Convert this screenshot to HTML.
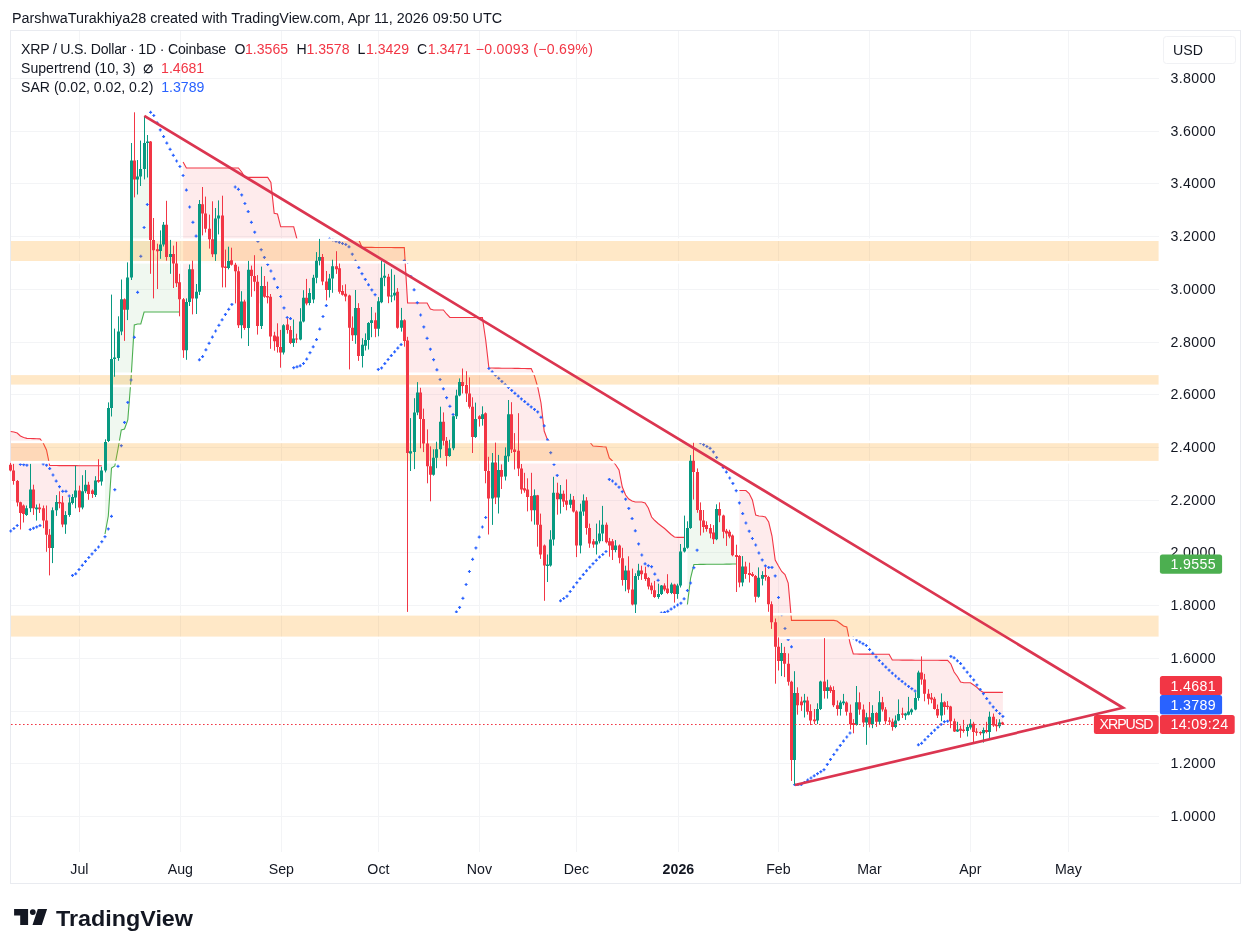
<!DOCTYPE html>
<html lang="en"><head><meta charset="utf-8"><title>XRPUSD chart</title>
<style>
html,body{margin:0;padding:0;background:#fff;}
body{width:1252px;height:952px;position:relative;overflow:hidden;font-family:"Liberation Sans",sans-serif;color:#131722;}
#hdr{position:absolute;left:12px;top:9px;font-size:14.35px;line-height:18px;white-space:nowrap;color:#131722;}
#chart{position:absolute;left:0;top:0;}
svg text{font-family:"Liberation Sans",sans-serif;}
.lg{position:absolute;left:21px;font-size:14.1px;line-height:18px;white-space:nowrap;color:#131722;}
.lg span.t{position:absolute;top:0}.lg span.r{color:#f23645}.lg span.b{color:#2962ff}
#logo{position:absolute;left:13px;top:903px;}
</style></head><body>
<div id="hdr">ParshwaTurakhiya28 created with TradingView.com, Apr 11, 2026 09:50 UTC</div>
<svg id="chart" width="1252" height="952" viewBox="0 0 1252 952">
<rect x="10.5" y="30.5" width="1230" height="853" fill="#fff" stroke="#e9ebf0" stroke-width="1"/>
<path d="M11 78.5H1159 M11 131.5H1159 M11 183.5H1159 M11 236.5H1159 M11 289.5H1159 M11 342.5H1159 M11 394.5H1159 M11 447.5H1159 M11 500.5H1159 M11 552.5H1159 M11 605.5H1159 M11 658.5H1159 M11 711.5H1159 M11 763.5H1159 M11 816.5H1159 M79.5 31V852 M180.5 31V852 M281.5 31V852 M378.5 31V852 M479.5 31V852 M576.5 31V852 M678.5 31V852 M778.5 31V852 M869.5 31V852 M970.5 31V852 M1068.5 31V852" stroke="#f3f4f6" stroke-width="1" fill="none"/>
<polygon points="10.7,431.5 13.9,432.0 17.2,433.0 20.4,436.0 23.7,437.5 26.9,438.4 30.2,438.5 33.5,438.6 36.7,438.8 40.0,438.9 43.2,443.0 46.5,450.0 49.7,465.5 53.0,465.5 56.2,465.5 59.5,465.6 62.7,465.6 66.0,465.6 69.2,465.6 72.5,465.6 75.7,465.6 79.0,465.7 82.3,465.7 85.5,465.7 88.8,465.7 92.0,465.7 95.3,465.8 98.5,465.8 101.8,465.8 101.8,476.1 98.5,475.9 95.3,487.2 92.0,493.0 88.8,490.1 85.5,484.8 82.3,495.8 79.0,498.9 75.7,490.4 72.5,499.7 69.2,507.9 66.0,521.1 62.7,512.6 59.5,501.3 56.2,505.8 53.0,532.2 49.7,546.8 46.5,528.2 43.2,515.6 40.0,508.3 36.7,510.4 33.5,499.3 30.2,493.4 26.9,511.2 23.7,511.6 20.4,511.6 17.2,492.5 13.9,475.0 10.7,467.4" fill="#f23645" fill-opacity="0.1"/>
<polyline points="10.7,431.5 13.9,432.0 17.2,433.0 20.4,436.0 23.7,437.5 26.9,438.4 30.2,438.5 33.5,438.6 36.7,438.8 40.0,438.9 43.2,443.0 46.5,450.0 49.7,465.5 53.0,465.5 56.2,465.5 59.5,465.6 62.7,465.6 66.0,465.6 69.2,465.6 72.5,465.6 75.7,465.6 79.0,465.7 82.3,465.7 85.5,465.7 88.8,465.7 92.0,465.7 95.3,465.8 98.5,465.8 101.8,465.8" fill="none" stroke="#f23645" stroke-width="1.1"/>
<polygon points="105.0,534.0 108.3,516.0 111.5,468.0 114.8,466.0 118.0,449.0 121.3,430.0 124.5,429.0 127.8,420.0 131.1,378.0 134.3,325.0 137.6,324.0 140.8,324.0 144.1,312.0 147.3,312.0 150.6,312.0 153.8,312.0 157.1,312.0 160.3,312.0 163.6,312.0 166.8,312.0 170.1,312.0 173.3,312.0 176.6,312.0 179.9,312.0 179.9,292.9 176.6,268.9 173.3,262.8 170.1,256.1 166.8,235.8 163.6,234.5 160.3,246.2 157.1,258.3 153.8,251.7 150.6,199.1 147.3,149.2 144.1,151.8 140.8,168.1 137.6,177.6 134.3,162.4 131.1,215.3 127.8,292.5 124.5,312.1 121.3,311.4 118.0,341.6 114.8,355.4 111.5,369.5 108.3,423.4 105.0,456.1" fill="#4caf50" fill-opacity="0.085"/>
<polyline points="105.0,534.0 108.3,516.0 111.5,468.0 114.8,466.0 118.0,449.0 121.3,430.0 124.5,429.0 127.8,420.0 131.1,378.0 134.3,325.0 137.6,324.0 140.8,324.0 144.1,312.0 147.3,312.0 150.6,312.0 153.8,312.0 157.1,312.0 160.3,312.0 163.6,312.0 166.8,312.0 170.1,312.0 173.3,312.0 176.6,312.0 179.9,312.0" fill="none" stroke="#4caf50" stroke-width="1.1"/>
<polygon points="183.1,162.0 186.4,168.0 189.6,168.0 192.9,168.0 196.1,168.0 199.4,168.0 202.6,168.0 205.9,168.0 209.1,168.0 212.4,168.0 215.6,168.0 218.9,168.0 222.1,168.0 225.4,168.0 228.7,168.0 231.9,168.0 235.2,168.0 238.4,168.0 241.7,172.0 244.9,177.4 248.2,177.4 251.4,177.4 254.7,177.4 257.9,177.4 261.2,177.4 264.4,177.4 267.7,177.4 270.9,182.4 274.2,213.2 277.5,214.0 280.7,226.8 284.0,226.8 287.2,226.8 290.5,226.8 293.7,226.8 297.0,239.2 300.2,239.7 303.5,239.7 306.7,239.7 310.0,239.7 313.2,239.7 316.5,239.7 319.7,239.7 323.0,239.7 326.3,239.7 329.5,239.7 332.8,239.7 336.0,239.7 339.3,239.7 342.5,239.7 345.8,239.7 349.0,239.7 352.3,239.7 355.5,239.7 358.8,239.7 362.0,247.4 365.3,247.4 368.5,247.4 371.8,247.4 375.1,247.5 378.3,247.5 381.6,247.5 384.8,247.5 388.1,247.5 391.3,247.5 394.6,247.6 397.8,247.6 401.1,247.6 404.3,247.6 407.6,303.0 410.8,303.0 414.1,303.0 417.3,303.0 420.6,303.0 423.8,303.0 427.1,303.0 430.4,309.0 433.6,310.0 436.9,310.0 440.1,310.0 443.4,310.0 446.6,314.0 449.9,317.5 453.1,317.5 456.4,317.5 459.6,317.5 462.9,317.5 466.1,317.5 469.4,317.5 472.6,317.5 475.9,317.5 479.2,317.5 482.4,317.5 485.7,340.0 488.9,368.0 492.2,368.0 495.4,368.1 498.7,368.1 501.9,368.2 505.2,368.2 508.4,368.3 511.7,368.3 514.9,368.4 518.2,368.4 521.4,368.5 524.7,368.5 528.0,368.6 531.2,368.6 534.5,376.0 537.7,387.0 541.0,403.0 544.2,431.0 547.5,440.0 550.7,442.0 554.0,442.0 557.2,442.0 560.5,442.0 563.7,442.0 567.0,442.0 570.2,442.0 573.5,442.0 576.8,442.0 580.0,442.0 583.3,442.0 586.5,442.0 589.8,442.0 593.0,446.0 596.3,446.2 599.5,446.5 602.8,446.8 606.0,447.0 609.3,458.0 612.5,461.0 615.8,465.0 619.0,470.0 622.3,487.0 625.6,495.0 628.8,499.0 632.1,501.0 635.3,502.0 638.6,502.0 641.8,502.0 645.1,503.0 648.3,508.0 651.6,517.0 654.8,520.5 658.1,523.5 661.3,526.0 664.6,528.5 667.8,531.5 671.1,534.5 674.4,537.0 677.6,537.4 680.9,537.4 684.1,537.4 684.1,541.9 680.9,567.2 677.6,590.5 674.4,591.3 671.1,588.7 667.8,587.5 664.6,587.4 661.3,589.9 658.1,593.4 654.8,591.5 651.6,588.2 648.3,582.7 645.1,574.9 641.8,572.6 638.6,572.6 635.3,591.7 632.1,592.0 628.8,577.3 625.6,576.8 622.3,567.9 619.0,552.8 615.8,547.0 612.5,547.6 609.3,545.4 606.0,533.2 602.8,526.3 599.5,534.6 596.3,540.9 593.0,543.1 589.8,535.7 586.5,515.0 583.3,505.5 580.0,528.5 576.8,531.1 573.5,504.9 570.2,501.6 567.0,498.7 563.7,498.2 560.5,497.9 557.2,497.4 554.0,513.6 550.7,550.4 547.5,566.7 544.2,564.1 541.0,537.9 537.7,515.4 534.5,504.9 531.2,500.1 528.0,494.1 524.7,486.1 521.4,478.9 518.2,452.1 514.9,451.0 511.7,429.8 508.4,433.1 505.2,465.1 501.9,475.0 498.7,484.0 495.4,476.7 492.2,484.7 488.9,490.2 485.7,445.0 482.4,416.3 479.2,419.2 475.9,424.1 472.6,423.5 469.4,396.6 466.1,387.9 462.9,382.5 459.6,388.1 456.4,405.1 453.1,432.6 449.9,450.2 446.6,450.0 443.4,430.1 440.1,433.9 436.9,454.2 433.6,464.4 430.4,472.2 427.1,455.6 423.8,430.8 420.6,411.9 417.3,400.6 414.1,433.0 410.8,448.5 407.6,435.6 404.3,331.8 401.1,321.9 397.8,309.1 394.6,290.9 391.3,290.9 388.1,287.6 384.8,275.8 381.6,285.9 378.3,315.9 375.1,324.7 371.8,321.9 368.5,333.7 365.3,342.4 362.0,351.6 358.8,332.0 355.5,319.3 352.3,330.1 349.0,321.9 345.8,294.0 342.5,291.6 339.3,279.3 336.0,265.1 332.8,274.4 329.5,285.0 326.3,285.7 323.0,269.4 319.7,255.5 316.5,268.4 313.2,288.8 310.0,297.4 306.7,296.4 303.5,307.9 300.2,327.3 297.0,338.7 293.7,337.0 290.5,335.8 287.2,326.7 284.0,339.1 280.7,349.3 277.5,339.8 274.2,339.8 270.9,319.0 267.7,294.6 264.4,289.2 261.2,301.9 257.9,304.4 254.7,276.0 251.4,277.1 248.2,301.2 244.9,314.8 241.7,314.1 238.4,297.8 235.2,275.6 231.9,259.6 228.7,261.2 225.4,267.9 222.1,241.5 218.9,217.2 215.6,235.4 212.4,238.0 209.1,232.8 205.9,217.9 202.6,210.0 199.4,247.7 196.1,297.0 192.9,285.7 189.6,285.4 186.4,327.6 183.1,326.4" fill="#f23645" fill-opacity="0.1"/>
<polyline points="183.1,162.0 186.4,168.0 189.6,168.0 192.9,168.0 196.1,168.0 199.4,168.0 202.6,168.0 205.9,168.0 209.1,168.0 212.4,168.0 215.6,168.0 218.9,168.0 222.1,168.0 225.4,168.0 228.7,168.0 231.9,168.0 235.2,168.0 238.4,168.0 241.7,172.0 244.9,177.4 248.2,177.4 251.4,177.4 254.7,177.4 257.9,177.4 261.2,177.4 264.4,177.4 267.7,177.4 270.9,182.4 274.2,213.2 277.5,214.0 280.7,226.8 284.0,226.8 287.2,226.8 290.5,226.8 293.7,226.8 297.0,239.2 300.2,239.7 303.5,239.7 306.7,239.7 310.0,239.7 313.2,239.7 316.5,239.7 319.7,239.7 323.0,239.7 326.3,239.7 329.5,239.7 332.8,239.7 336.0,239.7 339.3,239.7 342.5,239.7 345.8,239.7 349.0,239.7 352.3,239.7 355.5,239.7 358.8,239.7 362.0,247.4 365.3,247.4 368.5,247.4 371.8,247.4 375.1,247.5 378.3,247.5 381.6,247.5 384.8,247.5 388.1,247.5 391.3,247.5 394.6,247.6 397.8,247.6 401.1,247.6 404.3,247.6 407.6,303.0 410.8,303.0 414.1,303.0 417.3,303.0 420.6,303.0 423.8,303.0 427.1,303.0 430.4,309.0 433.6,310.0 436.9,310.0 440.1,310.0 443.4,310.0 446.6,314.0 449.9,317.5 453.1,317.5 456.4,317.5 459.6,317.5 462.9,317.5 466.1,317.5 469.4,317.5 472.6,317.5 475.9,317.5 479.2,317.5 482.4,317.5 485.7,340.0 488.9,368.0 492.2,368.0 495.4,368.1 498.7,368.1 501.9,368.2 505.2,368.2 508.4,368.3 511.7,368.3 514.9,368.4 518.2,368.4 521.4,368.5 524.7,368.5 528.0,368.6 531.2,368.6 534.5,376.0 537.7,387.0 541.0,403.0 544.2,431.0 547.5,440.0 550.7,442.0 554.0,442.0 557.2,442.0 560.5,442.0 563.7,442.0 567.0,442.0 570.2,442.0 573.5,442.0 576.8,442.0 580.0,442.0 583.3,442.0 586.5,442.0 589.8,442.0 593.0,446.0 596.3,446.2 599.5,446.5 602.8,446.8 606.0,447.0 609.3,458.0 612.5,461.0 615.8,465.0 619.0,470.0 622.3,487.0 625.6,495.0 628.8,499.0 632.1,501.0 635.3,502.0 638.6,502.0 641.8,502.0 645.1,503.0 648.3,508.0 651.6,517.0 654.8,520.5 658.1,523.5 661.3,526.0 664.6,528.5 667.8,531.5 671.1,534.5 674.4,537.0 677.6,537.4 680.9,537.4 684.1,537.4" fill="none" stroke="#f23645" stroke-width="1.1"/>
<polygon points="687.4,604.5 690.6,578.0 693.9,564.5 697.1,564.5 700.4,564.4 703.6,564.4 706.9,564.3 710.1,564.3 713.4,564.3 716.6,564.2 719.9,564.2 723.2,564.2 726.4,564.1 729.7,564.1 732.9,564.0 736.2,564.0 736.2,562.2 732.9,545.4 729.7,534.1 726.4,534.8 723.2,525.1 719.9,512.3 716.6,523.2 713.4,535.2 710.1,531.0 706.9,526.7 703.6,522.5 700.4,517.0 697.1,490.8 693.9,468.8 690.6,493.2 687.4,536.4" fill="#4caf50" fill-opacity="0.085"/>
<polyline points="687.4,604.5 690.6,578.0 693.9,564.5 697.1,564.5 700.4,564.4 703.6,564.4 706.9,564.3 710.1,564.3 713.4,564.3 716.6,564.2 719.9,564.2 723.2,564.2 726.4,564.1 729.7,564.1 732.9,564.0 736.2,564.0" fill="none" stroke="#4caf50" stroke-width="1.1"/>
<polygon points="739.4,490.5 742.7,490.5 745.9,490.5 749.2,493.5 752.4,500.0 755.7,515.0 758.9,516.0 762.2,516.2 765.4,517.0 768.7,522.0 772.0,536.0 775.2,560.0 778.5,566.0 781.7,571.5 785.0,574.5 788.2,583.0 791.5,620.4 794.7,620.4 798.0,620.4 801.2,620.4 804.5,620.4 807.7,620.4 811.0,620.4 814.2,620.4 817.5,620.4 820.8,620.4 824.0,620.4 827.3,620.4 830.5,620.4 833.8,620.4 837.0,621.0 840.3,623.5 843.5,626.0 846.8,627.0 850.0,643.0 853.3,654.0 856.5,654.0 859.8,654.1 863.0,654.1 866.3,654.1 869.6,654.1 872.8,654.2 876.1,654.2 879.3,654.2 882.6,654.2 885.8,654.3 889.1,654.3 892.3,660.0 895.6,660.0 898.8,660.0 902.1,660.1 905.3,660.1 908.6,660.1 911.8,660.1 915.1,660.2 918.4,660.2 921.6,660.2 924.9,660.2 928.1,660.3 931.4,660.3 934.6,660.3 937.9,660.3 941.1,660.4 944.4,660.4 947.6,660.4 950.9,664.0 954.1,672.0 957.4,676.5 960.6,682.0 963.9,682.8 967.2,682.8 970.4,682.8 973.7,685.0 976.9,687.3 980.2,690.5 983.4,692.4 986.7,692.4 989.9,692.4 993.2,692.4 996.4,692.4 999.7,692.4 1002.9,692.4 1002.9,723.4 999.7,724.0 996.4,725.5 993.2,720.7 989.9,724.7 986.7,729.3 983.4,733.4 980.2,733.0 976.9,732.0 973.7,729.9 970.4,725.0 967.2,729.7 963.9,728.2 960.6,730.7 957.4,728.7 954.1,725.8 950.9,715.4 947.6,705.9 944.4,706.4 941.1,708.1 937.9,711.7 934.6,703.6 931.4,698.3 928.1,696.5 924.9,687.1 921.6,673.3 918.4,685.5 915.1,702.6 911.8,711.2 908.6,709.6 905.3,715.4 902.1,713.5 898.8,713.8 895.6,722.7 892.3,724.5 889.1,721.2 885.8,715.6 882.6,705.1 879.3,710.0 876.1,718.5 872.8,717.7 869.6,717.8 866.3,724.3 863.0,715.9 859.8,704.8 856.5,709.7 853.3,725.1 850.0,717.8 846.8,707.8 843.5,701.0 840.3,706.9 837.0,707.6 833.8,697.2 830.5,689.2 827.3,689.2 824.0,677.3 820.8,695.3 817.5,714.2 814.2,718.5 811.0,715.2 807.7,705.9 804.5,703.6 801.2,703.6 798.0,700.0 794.7,727.2 791.5,725.8 788.2,671.2 785.0,660.2 781.7,658.3 778.5,653.9 775.2,642.8 772.0,614.2 768.7,592.2 765.4,575.0 762.2,577.6 758.9,584.9 755.7,587.5 752.4,574.7 749.2,573.3 745.9,570.3 742.7,572.9 739.4,570.3" fill="#f23645" fill-opacity="0.1"/>
<polyline points="739.4,490.5 742.7,490.5 745.9,490.5 749.2,493.5 752.4,500.0 755.7,515.0 758.9,516.0 762.2,516.2 765.4,517.0 768.7,522.0 772.0,536.0 775.2,560.0 778.5,566.0 781.7,571.5 785.0,574.5 788.2,583.0 791.5,620.4 794.7,620.4 798.0,620.4 801.2,620.4 804.5,620.4 807.7,620.4 811.0,620.4 814.2,620.4 817.5,620.4 820.8,620.4 824.0,620.4 827.3,620.4 830.5,620.4 833.8,620.4 837.0,621.0 840.3,623.5 843.5,626.0 846.8,627.0 850.0,643.0 853.3,654.0 856.5,654.0 859.8,654.1 863.0,654.1 866.3,654.1 869.6,654.1 872.8,654.2 876.1,654.2 879.3,654.2 882.6,654.2 885.8,654.3 889.1,654.3 892.3,660.0 895.6,660.0 898.8,660.0 902.1,660.1 905.3,660.1 908.6,660.1 911.8,660.1 915.1,660.2 918.4,660.2 921.6,660.2 924.9,660.2 928.1,660.3 931.4,660.3 934.6,660.3 937.9,660.3 941.1,660.4 944.4,660.4 947.6,660.4 950.9,664.0 954.1,672.0 957.4,676.5 960.6,682.0 963.9,682.8 967.2,682.8 970.4,682.8 973.7,685.0 976.9,687.3 980.2,690.5 983.4,692.4 986.7,692.4 989.9,692.4 993.2,692.4 996.4,692.4 999.7,692.4 1002.9,692.4" fill="none" stroke="#f23645" stroke-width="1.1"/>
<path d="M9.2 531.0h3M10.7 529.5v3 M12.4 528.5h3M13.9 527.0v3 M15.7 525.5h3M17.2 524.0v3 M18.9 464.3h3M20.4 462.8v3 M22.2 464.7h3M23.7 463.2v3 M25.4 465.2h3M26.9 463.7v3 M28.7 529.5h3M30.2 528.0v3 M32.0 528.2h3M33.5 526.7v3 M35.2 526.9h3M36.7 525.4v3 M38.5 525.6h3M40.0 524.1v3 M41.7 463.9h3M43.2 462.4v3 M45.0 465.2h3M46.5 463.7v3 M48.2 468.6h3M49.7 467.1v3 M51.5 475.0h3M53.0 473.5v3 M54.7 481.1h3M56.2 479.6v3 M58.0 486.7h3M59.5 485.2v3 M61.2 491.3h3M62.7 489.8v3 M64.5 491.3h3M66.0 489.8v3 M67.7 496.0h3M69.2 494.5v3 M71.0 575.4h3M72.5 573.9v3 M74.2 573.8h3M75.7 572.3v3 M77.5 569.5h3M79.0 568.0v3 M80.8 565.3h3M82.3 563.8v3 M84.0 561.4h3M85.5 559.9v3 M87.3 557.5h3M88.8 556.0v3 M90.5 553.9h3M92.0 552.4v3 M93.8 550.3h3M95.3 548.8v3 M97.0 547.0h3M98.5 545.5v3 M100.3 541.7h3M101.8 540.2v3 M103.5 536.7h3M105.0 535.2v3 M106.8 528.9h3M108.3 527.4v3 M110.0 516.3h3M111.5 514.8v3 M113.3 489.7h3M114.8 488.2v3 M116.5 466.3h3M118.0 464.8v3 M119.8 445.7h3M121.3 444.2v3 M123.0 422.4h3M124.5 420.9v3 M126.3 402.4h3M127.8 400.9v3 M129.6 380.0h3M131.1 378.5v3 M132.8 337.3h3M134.3 335.8v3 M136.1 292.3h3M137.6 290.8v3 M139.3 256.3h3M140.8 254.8v3 M142.6 227.5h3M144.1 226.0v3 M145.8 204.5h3M147.3 203.0v3 M149.1 112.3h3M150.6 110.8v3 M152.3 115.5h3M153.8 114.0v3 M155.6 122.8h3M157.1 121.3v3 M158.8 129.9h3M160.3 128.4v3 M162.1 136.6h3M163.6 135.1v3 M165.3 143.1h3M166.8 141.6v3 M168.6 149.3h3M170.1 147.8v3 M171.8 155.3h3M173.3 153.8v3 M175.1 161.0h3M176.6 159.5v3 M178.4 166.5h3M179.9 165.0v3 M181.6 175.5h3M183.1 174.0v3 M184.9 190.1h3M186.4 188.6v3 M188.1 207.0h3M189.6 205.5v3 M191.4 222.3h3M192.9 220.8v3 M194.6 236.1h3M196.1 234.6v3 M197.9 359.8h3M199.4 358.3v3 M201.1 356.6h3M202.6 355.1v3 M204.4 349.8h3M205.9 348.3v3 M207.6 343.3h3M209.1 341.8v3 M210.9 337.1h3M212.4 335.6v3 M214.1 331.0h3M215.6 329.5v3 M217.4 325.3h3M218.9 323.8v3 M220.6 319.8h3M222.1 318.3v3 M223.9 314.4h3M225.4 312.9v3 M227.2 309.3h3M228.7 307.8v3 M230.4 304.4h3M231.9 302.9v3 M233.7 187.0h3M235.2 185.5v3 M236.9 189.3h3M238.4 187.8v3 M240.2 194.9h3M241.7 193.4v3 M243.4 203.5h3M244.9 202.0v3 M246.7 211.6h3M248.2 210.1v3 M249.9 222.3h3M251.4 220.8v3 M253.2 232.2h3M254.7 230.7v3 M256.4 241.3h3M257.9 239.8v3 M259.7 249.7h3M261.2 248.2v3 M262.9 257.4h3M264.4 255.9v3 M266.2 264.5h3M267.7 263.0v3 M269.4 271.0h3M270.9 269.5v3 M272.7 278.8h3M274.2 277.3v3 M276.0 287.4h3M277.5 285.9v3 M279.2 296.5h3M280.7 295.0v3 M282.5 307.9h3M284.0 306.4v3 M285.7 317.5h3M287.2 316.0v3 M289.0 318.6h3M290.5 317.1v3 M292.2 367.7h3M293.7 366.2v3 M295.5 366.8h3M297.0 365.3v3 M298.7 365.8h3M300.2 364.3v3 M302.0 363.5h3M303.5 362.0v3 M305.2 359.1h3M306.7 357.6v3 M308.5 352.7h3M310.0 351.2v3 M311.7 346.8h3M313.2 345.3v3 M315.0 339.6h3M316.5 338.1v3 M318.2 329.1h3M319.7 327.6v3 M321.5 316.5h3M323.0 315.0v3 M324.8 305.6h3M326.3 304.1v3 M328.0 238.9h3M329.5 237.4v3 M331.3 240.1h3M332.8 238.6v3 M334.5 241.2h3M336.0 239.7v3 M337.8 242.4h3M339.3 240.9v3 M341.0 243.5h3M342.5 242.0v3 M344.3 244.5h3M345.8 243.0v3 M347.5 246.8h3M349.0 245.3v3 M350.8 254.2h3M352.3 252.7v3 M354.0 261.1h3M355.5 259.6v3 M357.3 267.6h3M358.8 266.1v3 M360.5 273.7h3M362.0 272.2v3 M363.8 279.4h3M365.3 277.9v3 M367.0 284.8h3M368.5 283.3v3 M370.3 289.9h3M371.8 288.4v3 M373.6 294.7h3M375.1 293.2v3 M376.8 369.4h3M378.3 367.9v3 M380.1 367.9h3M381.6 366.4v3 M383.3 363.6h3M384.8 362.1v3 M386.6 359.5h3M388.1 358.0v3 M389.8 355.6h3M391.3 354.1v3 M393.1 351.8h3M394.6 350.3v3 M396.3 348.1h3M397.8 346.6v3 M399.6 344.6h3M401.1 343.1v3 M402.8 260.7h3M404.3 259.2v3 M406.1 262.4h3M407.6 260.9v3 M409.3 276.4h3M410.8 274.9v3 M412.6 289.8h3M414.1 288.3v3 M415.8 302.7h3M417.3 301.2v3 M419.1 315.0h3M420.6 313.5v3 M422.3 326.9h3M423.8 325.4v3 M425.6 338.3h3M427.1 336.8v3 M428.9 349.2h3M430.4 347.7v3 M432.1 359.7h3M433.6 358.2v3 M435.4 369.8h3M436.9 368.3v3 M438.6 379.5h3M440.1 378.0v3 M441.9 388.8h3M443.4 387.3v3 M445.1 397.7h3M446.6 396.2v3 M448.4 406.3h3M449.9 404.8v3 M451.6 414.5h3M453.1 413.0v3 M454.9 611.9h3M456.4 610.4v3 M458.1 607.4h3M459.6 605.9v3 M461.4 598.3h3M462.9 596.8v3 M464.6 584.5h3M466.1 583.0v3 M467.9 571.5h3M469.4 570.0v3 M471.1 559.3h3M472.6 557.8v3 M474.4 547.9h3M475.9 546.4v3 M477.7 537.1h3M479.2 535.6v3 M480.9 527.0h3M482.4 525.5v3 M484.2 517.5h3M485.7 516.0v3 M487.4 368.5h3M488.9 367.0v3 M490.7 371.8h3M492.2 370.3v3 M493.9 375.1h3M495.4 373.6v3 M497.2 378.3h3M498.7 376.8v3 M500.4 381.4h3M501.9 379.9v3 M503.7 384.5h3M505.2 383.0v3 M506.9 387.5h3M508.4 386.0v3 M510.2 390.4h3M511.7 388.9v3 M513.4 393.3h3M514.9 391.8v3 M516.7 396.1h3M518.2 394.6v3 M519.9 398.9h3M521.4 397.4v3 M523.2 401.6h3M524.7 400.1v3 M526.5 404.3h3M528.0 402.8v3 M529.7 406.9h3M531.2 405.4v3 M533.0 409.4h3M534.5 407.9v3 M536.2 411.9h3M537.7 410.4v3 M539.5 417.3h3M541.0 415.8v3 M542.7 425.8h3M544.2 424.3v3 M546.0 439.8h3M547.5 438.3v3 M549.2 452.7h3M550.7 451.2v3 M552.5 464.5h3M554.0 463.0v3 M555.7 475.4h3M557.2 473.9v3 M559.0 600.8h3M560.5 599.3v3 M562.2 598.5h3M563.7 597.0v3 M565.5 596.2h3M567.0 594.7v3 M568.7 591.5h3M570.2 590.0v3 M572.0 587.1h3M573.5 585.6v3 M575.3 582.7h3M576.8 581.2v3 M578.5 578.6h3M580.0 577.1v3 M581.8 574.6h3M583.3 573.1v3 M585.0 570.8h3M586.5 569.3v3 M588.3 567.2h3M589.8 565.7v3 M591.5 563.7h3M593.0 562.2v3 M594.8 560.3h3M596.3 558.8v3 M598.0 557.1h3M599.5 555.6v3 M601.3 554.5h3M602.8 553.0v3 M604.5 551.5h3M606.0 550.0v3 M607.8 479.4h3M609.3 477.9v3 M611.0 481.0h3M612.5 479.5v3 M614.3 484.1h3M615.8 482.6v3 M617.5 487.2h3M619.0 485.7v3 M620.8 491.7h3M622.3 490.2v3 M624.1 499.2h3M625.6 497.7v3 M627.3 508.4h3M628.8 506.9v3 M630.6 518.6h3M632.1 517.1v3 M633.8 530.8h3M635.3 529.3v3 M637.1 543.9h3M638.6 542.4v3 M640.3 555.0h3M641.8 553.5v3 M643.6 563.8h3M645.1 562.3v3 M646.8 565.7h3M648.3 564.2v3 M650.1 566.7h3M651.6 565.2v3 M653.3 574.1h3M654.8 572.6v3 M656.6 580.3h3M658.1 578.8v3 M659.8 613.0h3M661.3 611.5v3 M663.1 612.4h3M664.6 610.9v3 M666.3 611.3h3M667.8 609.8v3 M669.6 609.1h3M671.1 607.6v3 M672.9 607.0h3M674.4 605.5v3 M676.1 605.0h3M677.6 603.5v3 M679.4 603.2h3M680.9 601.7v3 M682.6 598.8h3M684.1 597.3v3 M685.9 590.5h3M687.4 589.0v3 M689.1 583.0h3M690.6 581.5v3 M692.4 567.7h3M693.9 566.2v3 M695.6 550.2h3M697.1 548.7v3 M698.9 442.8h3M700.4 441.3v3 M702.1 444.7h3M703.6 443.2v3 M705.4 446.5h3M706.9 445.0v3 M708.6 448.3h3M710.1 446.8v3 M711.9 451.9h3M713.4 450.4v3 M715.1 457.4h3M716.6 455.9v3 M718.4 462.6h3M719.9 461.1v3 M721.7 467.5h3M723.2 466.0v3 M724.9 472.1h3M726.4 470.6v3 M728.2 478.0h3M729.7 476.5v3 M731.4 483.4h3M732.9 481.9v3 M734.7 490.7h3M736.2 489.2v3 M737.9 502.9h3M739.4 501.4v3 M741.2 513.6h3M742.7 512.1v3 M744.4 523.0h3M745.9 521.5v3 M747.7 531.2h3M749.2 529.7v3 M750.9 538.5h3M752.4 537.0v3 M754.2 545.0h3M755.7 543.5v3 M757.4 553.0h3M758.9 551.5v3 M760.7 559.9h3M762.2 558.4v3 M763.9 565.9h3M765.4 564.4v3 M767.2 567.4h3M768.7 565.9v3 M770.5 567.4h3M772.0 565.9v3 M773.7 575.9h3M775.2 574.4v3 M777.0 597.5h3M778.5 596.0v3 M780.2 614.7h3M781.7 613.2v3 M783.5 628.5h3M785.0 627.0v3 M786.7 639.6h3M788.2 638.1v3 M790.0 646.8h3M791.5 645.3v3 M793.2 784.6h3M794.7 783.1v3 M796.5 784.6h3M798.0 783.1v3 M799.7 784.6h3M801.2 783.1v3 M803.0 782.4h3M804.5 780.9v3 M806.2 780.1h3M807.7 778.6v3 M809.5 778.0h3M811.0 776.5v3 M812.7 775.8h3M814.2 774.3v3 M816.0 773.7h3M817.5 772.2v3 M819.3 771.7h3M820.8 770.2v3 M822.5 769.7h3M824.0 768.2v3 M825.8 764.4h3M827.3 762.9v3 M829.0 759.4h3M830.5 757.9v3 M832.3 754.5h3M833.8 753.0v3 M835.5 749.9h3M837.0 748.4v3 M838.8 745.4h3M840.3 743.9v3 M842.0 741.1h3M843.5 739.6v3 M845.3 737.0h3M846.8 735.5v3 M848.5 733.0h3M850.0 731.5v3 M851.8 638.1h3M853.3 636.6v3 M855.0 640.0h3M856.5 638.5v3 M858.3 641.9h3M859.8 640.4v3 M861.5 643.7h3M863.0 642.2v3 M864.8 645.5h3M866.3 644.0v3 M868.1 649.5h3M869.6 648.0v3 M871.3 653.3h3M872.8 651.8v3 M874.6 656.9h3M876.1 655.4v3 M877.8 660.5h3M879.3 659.0v3 M881.1 663.8h3M882.6 662.3v3 M884.3 667.1h3M885.8 665.6v3 M887.6 670.2h3M889.1 668.7v3 M890.8 673.2h3M892.3 671.7v3 M894.1 676.0h3M895.6 674.5v3 M897.3 678.8h3M898.8 677.3v3 M900.6 681.4h3M902.1 679.9v3 M903.8 684.0h3M905.3 682.5v3 M907.1 686.4h3M908.6 684.9v3 M910.3 688.7h3M911.8 687.2v3 M913.6 691.0h3M915.1 689.5v3 M916.9 744.8h3M918.4 743.3v3 M920.1 743.3h3M921.6 741.8v3 M923.4 739.8h3M924.9 738.3v3 M926.6 736.5h3M928.1 735.0v3 M929.9 733.3h3M931.4 731.8v3 M933.1 730.2h3M934.6 728.7v3 M936.4 727.3h3M937.9 725.8v3 M939.6 724.4h3M941.1 722.9v3 M942.9 721.7h3M944.4 720.2v3 M946.1 721.2h3M947.6 719.7v3 M949.4 656.4h3M950.9 654.9v3 M952.6 657.8h3M954.1 656.3v3 M955.9 660.8h3M957.4 659.3v3 M959.1 663.6h3M960.6 662.1v3 M962.4 668.1h3M963.9 666.6v3 M965.7 672.2h3M967.2 670.7v3 M968.9 676.2h3M970.4 674.7v3 M972.2 679.9h3M973.7 678.4v3 M975.4 684.9h3M976.9 683.4v3 M978.7 689.4h3M980.2 687.9v3 M981.9 693.7h3M983.4 692.2v3 M985.2 698.6h3M986.7 697.1v3 M988.4 703.0h3M989.9 701.5v3 M991.7 706.9h3M993.2 705.4v3 M994.9 710.5h3M996.4 709.0v3 M998.2 713.5h3M999.7 712.0v3 M1001.4 716.4h3M1002.9 714.9v3" stroke="#2962ff" stroke-width="1.2" fill="none"/>
<rect x="11" y="238.4" width="1147.6" height="2.6" fill="#fff"/><rect x="11" y="261.0" width="1147.6" height="2.6" fill="#fff"/>
<rect x="11" y="241" width="1147.6" height="20.0" fill="#ff9800" fill-opacity="0.22"/>
<rect x="11" y="372.5" width="1147.6" height="2.6" fill="#fff"/><rect x="11" y="384.6" width="1147.6" height="2.6" fill="#fff"/>
<rect x="11" y="375.1" width="1147.6" height="9.5" fill="#ff9800" fill-opacity="0.22"/>
<rect x="11" y="440.6" width="1147.6" height="2.6" fill="#fff"/><rect x="11" y="460.9" width="1147.6" height="2.6" fill="#fff"/>
<rect x="11" y="443.2" width="1147.6" height="17.7" fill="#ff9800" fill-opacity="0.22"/>
<rect x="11" y="613.0" width="1147.6" height="2.6" fill="#fff"/><rect x="11" y="636.6" width="1147.6" height="2.6" fill="#fff"/>
<rect x="11" y="615.6" width="1147.6" height="21.0" fill="#ff9800" fill-opacity="0.22"/>
<path d="M26.5 505.5V515.9 M30.5 463.9V512.1 M36.5 504.5V520.6 M52.5 507.4V563.1 M56.5 495.1V515.9 M65.5 511.2V533.8 M69.5 497.4V516.8 M72.5 494.1V504.5 M75.5 465.8V508.3 M82.5 475.2V509.3 M85.5 470.1V493.2 M95.5 476.2V497.0 M101.5 466.7V485.6 M105.5 439.3V472.4 M108.5 402.4V442.1 M111.5 294.6V416.5 M114.5 328.6V376.8 M118.5 316.3V360.8 M121.5 279.5V335.2 M127.5 262.4V320.1 M131.5 143.0V280.0 M137.5 160.0V194.5 M140.5 140.6V186.0 M144.5 116.0V179.4 M147.5 135.0V177.5 M160.5 230.4V258.8 M163.5 222.0V246.5 M170.5 239.9V273.8 M186.5 298.4V359.8 M189.5 264.5V306.0 M196.5 284.0V314.0 M199.5 200.0V295.0 M215.5 208.0V260.9 M218.5 200.4V234.4 M228.5 246.7V269.4 M241.5 291.2V338.4 M248.5 260.9V346.0 M261.5 266.6V329.0 M283.5 324.2V354.5 M293.5 319.5V346.9 M300.5 308.2V340.3 M303.5 290.2V322.4 M309.5 288.3V305.3 M313.5 274.8V303.2 M316.5 252.1V283.3 M319.5 238.9V265.4 M329.5 273.9V297.5 M332.5 259.7V292.8 M355.5 290.0V343.8 M362.5 338.2V367.5 M365.5 333.4V350.5 M368.5 322.1V349.5 M371.5 307.0V337.2 M378.5 297.1V336.3 M381.5 260.7V303.2 M384.5 263.5V286.2 M391.5 269.2V302.2 M394.5 274.8V300.4 M401.5 307.9V331.6 M410.5 418.1V471.0 M414.5 398.2V469.1 M417.5 382.1V415.2 M433.5 449.3V475.7 M436.5 441.7V468.2 M440.5 406.7V457.8 M449.5 439.8V456.8 M453.5 415.8V450.2 M456.5 389.7V419.0 M459.5 378.4V396.3 M475.5 402.6V437.9 M482.5 406.3V425.6 M492.5 453.0V524.9 M498.5 454.9V513.5 M505.5 447.4V480.5 M508.5 400.0V461.8 M534.5 489.4V524.7 M547.5 554.5V582.0 M550.5 530.2V566.6 M553.5 476.8V545.6 M560.5 485.0V513.6 M570.5 493.8V508.1 M580.5 503.7V553.4 M583.5 494.4V515.8 M596.5 523.6V554.5 M599.5 520.3V543.4 M602.5 505.9V541.2 M615.5 540.1V552.3 M625.5 565.7V591.3 M635.5 573.3V613.0 M638.5 563.8V579.9 M658.5 583.7V598.8 M661.5 585.0V595.0 M671.5 582.7V594.1 M677.5 583.7V598.8 M680.5 544.0V587.5 M684.5 515.6V552.5 M687.5 521.3V548.7 M690.5 455.1V528.9 M716.5 504.3V540.2 M742.5 556.1V586.3 M758.5 567.4V597.7 M762.5 571.2V585.4 M781.5 643.0V676.1 M794.5 671.2V784.6 M804.5 693.9V717.5 M817.5 703.3V724.1 M820.5 680.7V710.0 M827.5 679.7V698.6 M840.5 700.5V715.6 M843.5 693.9V705.2 M856.5 686.0V725.6 M866.5 712.8V744.8 M872.5 705.2V728.2 M879.5 691.1V725.0 M895.5 715.4V728.2 M898.5 699.4V721.2 M905.5 712.8V719.9 M908.5 696.9V715.4 M911.5 708.4V714.8 M915.5 692.4V710.3 M918.5 670.7V700.7 M941.5 693.4V721.2 M957.5 721.8V732.0 M967.5 724.3V736.5 M970.5 719.2V729.5 M983.5 727.5V742.6 M989.5 711.6V738.4 M999.5 719.2V728.2" stroke="#089981" stroke-width="1" fill="none"/>
<path d="M25.0 508.3h3V514.9h-3Z M29.0 489.4h3V508.3h-3Z M35.0 507.4h3V509.3h-3Z M51.0 510.2h3V548.0h-3Z M55.0 502.1h3V510.2h-3Z M64.0 514.9h3V524.4h-3Z M68.0 502.6h3V514.9h-3Z M71.0 497.0h3V503.0h-3Z M74.0 490.4h3V497.4h-3Z M81.0 491.3h3V507.4h-3Z M84.0 484.7h3V491.3h-3Z M94.0 480.5h3V495.1h-3Z M100.0 470.5h3V481.5h-3Z M104.0 442.1h3V470.5h-3Z M107.0 408.0h3V441.1h-3Z M110.0 358.9h3V408.0h-3Z M113.0 357.4h3V358.9h-3Z M117.0 331.4h3V357.9h-3Z M120.0 299.3h3V331.4h-3Z M126.0 277.6h3V309.7h-3Z M130.0 160.5h3V277.6h-3Z M136.0 176.6h3V179.4h-3Z M139.0 169.0h3V176.6h-3Z M143.0 143.0h3V169.0h-3Z M146.0 141.5h3V143.0h-3Z M159.0 244.6h3V250.9h-3Z M162.0 224.8h3V244.6h-3Z M169.0 254.0h3V256.9h-3Z M185.0 302.0h3V350.3h-3Z M188.0 269.2h3V302.0h-3Z M195.0 291.7h3V298.4h-3Z M198.0 204.0h3V291.7h-3Z M214.0 218.4h3V254.3h-3Z M217.0 215.5h3V218.4h-3Z M227.0 260.9h3V267.9h-3Z M240.0 301.6h3V325.2h-3Z M247.0 269.8h3V328.0h-3Z M260.0 286.0h3V326.1h-3Z M282.0 325.2h3V352.6h-3Z M292.0 338.4h3V343.1h-3Z M299.0 321.4h3V339.4h-3Z M302.0 297.8h3V321.4h-3Z M308.0 293.0h3V303.1h-3Z M312.0 277.7h3V299.4h-3Z M315.0 260.7h3V277.7h-3Z M318.0 256.9h3V260.7h-3Z M328.0 278.6h3V290.0h-3Z M331.0 266.3h3V278.6h-3Z M354.0 307.9h3V335.3h-3Z M361.0 344.8h3V356.1h-3Z M364.0 340.1h3V345.7h-3Z M367.0 323.0h3V340.1h-3Z M370.0 320.2h3V323.0h-3Z M377.0 301.3h3V328.7h-3Z M380.0 277.7h3V302.2h-3Z M383.0 275.8h3V277.7h-3Z M390.0 295.6h3V296.6h-3Z M393.0 292.8h3V295.6h-3Z M400.0 320.2h3V327.8h-3Z M409.0 451.2h3V453.6h-3Z M413.0 412.4h3V452.1h-3Z M416.0 392.5h3V412.4h-3Z M432.0 457.8h3V474.8h-3Z M435.0 449.3h3V457.8h-3Z M439.0 421.8h3V449.3h-3Z M448.0 448.3h3V455.9h-3Z M452.0 416.2h3V448.3h-3Z M455.0 395.4h3V416.2h-3Z M458.0 382.1h3V395.4h-3Z M474.0 419.0h3V437.0h-3Z M481.0 414.3h3V419.0h-3Z M491.0 462.5h3V498.4h-3Z M497.0 470.1h3V497.5h-3Z M504.0 455.8h3V476.6h-3Z M507.0 414.3h3V456.3h-3Z M533.0 495.3h3V510.3h-3Z M546.0 564.4h3V565.9h-3Z M549.0 539.5h3V565.5h-3Z M552.0 492.7h3V539.5h-3Z M559.0 493.8h3V499.3h-3Z M569.0 499.7h3V504.8h-3Z M579.0 511.4h3V545.6h-3Z M582.0 500.4h3V511.4h-3Z M595.0 541.2h3V544.5h-3Z M598.0 533.5h3V541.2h-3Z M601.0 524.7h3V533.5h-3Z M614.0 545.6h3V550.0h-3Z M624.0 570.5h3V579.9h-3Z M634.0 576.1h3V604.5h-3Z M637.0 570.5h3V576.1h-3Z M657.0 594.1h3V596.9h-3Z M660.0 585.6h3V594.1h-3Z M670.0 584.6h3V593.1h-3Z M676.0 585.6h3V594.1h-3Z M679.0 551.6h3V585.6h-3Z M683.0 547.8h3V551.6h-3Z M686.0 527.9h3V547.8h-3Z M689.0 460.8h3V527.9h-3Z M715.0 509.0h3V539.3h-3Z M741.0 566.5h3V582.5h-3Z M757.0 577.8h3V596.7h-3Z M761.0 575.0h3V578.8h-3Z M780.0 652.9h3V661.0h-3Z M793.0 692.9h3V760.1h-3Z M803.0 700.5h3V702.4h-3Z M816.0 709.0h3V720.4h-3Z M819.0 681.6h3V709.0h-3Z M826.0 687.3h3V691.0h-3Z M839.0 702.4h3V709.0h-3Z M842.0 701.4h3V703.3h-3Z M855.0 702.2h3V725.0h-3Z M865.0 717.3h3V722.4h-3Z M871.0 713.1h3V724.3h-3Z M878.0 702.2h3V721.8h-3Z M894.0 720.5h3V726.9h-3Z M897.0 714.1h3V720.5h-3Z M904.0 713.5h3V715.4h-3Z M907.0 711.6h3V714.8h-3Z M910.0 709.6h3V712.2h-3Z M914.0 698.1h3V709.6h-3Z M917.0 672.6h3V698.1h-3Z M940.0 702.2h3V715.4h-3Z M956.0 729.5h3V731.4h-3Z M966.0 726.9h3V731.0h-3Z M969.0 723.7h3V727.5h-3Z M982.0 730.1h3V733.3h-3Z M988.0 716.7h3V732.0h-3Z M998.0 722.4h3V726.3h-3Z" fill="#089981"/>
<path d="M10.5 462.9V471.4 M13.5 463.9V484.7 M17.5 480.0V506.4 M20.5 501.7V529.5 M23.5 504.5V522.5 M33.5 484.7V514.9 M39.5 503.6V513.0 M43.5 505.5V528.2 M46.5 505.5V551.8 M49.5 529.1V575.4 M59.5 491.3V508.3 M62.5 496.0V527.2 M79.5 485.6V512.1 M88.5 481.8V499.8 M92.5 489.4V497.9 M98.5 459.2V482.8 M124.5 298.4V340.9 M134.5 112.3V197.4 M150.5 141.0V273.8 M153.5 218.0V298.4 M157.5 243.7V289.0 M166.5 200.8V260.7 M173.5 245.6V288.0 M176.5 241.8V287.0 M179.5 273.8V316.3 M183.5 298.0V357.9 M192.5 260.7V314.4 M202.5 187.0V235.4 M205.5 196.6V232.5 M209.5 214.6V248.6 M212.5 201.3V257.1 M222.5 195.7V287.4 M225.5 249.6V287.4 M231.5 247.7V265.6 M235.5 262.8V303.4 M238.5 266.6V328.0 M244.5 299.7V329.9 M251.5 265.6V296.8 M254.5 255.2V291.2 M257.5 275.1V334.6 M264.5 276.0V297.8 M267.5 281.7V303.4 M270.5 294.0V348.8 M274.5 331.8V350.7 M277.5 323.3V352.6 M280.5 329.9V367.7 M287.5 318.6V333.7 M290.5 326.1V344.1 M296.5 333.7V343.1 M306.5 278.9V305.3 M322.5 254.0V285.2 M326.5 271.0V300.4 M336.5 251.2V273.9 M339.5 263.5V293.7 M342.5 285.2V295.6 M345.5 284.3V301.3 M349.5 294.7V369.4 M352.5 316.4V341.0 M358.5 303.2V360.9 M375.5 312.6V337.2 M388.5 273.9V303.2 M397.5 288.1V328.7 M404.5 319.3V346.7 M407.5 336.8V611.9 M420.5 387.8V448.3 M423.5 408.6V452.1 M427.5 429.4V483.3 M430.5 446.4V501.3 M443.5 412.4V445.5 M446.5 437.0V466.3 M462.5 368.5V393.5 M466.5 371.2V402.0 M469.5 377.4V408.6 M472.5 397.3V453.0 M479.5 415.2V426.6 M485.5 412.4V483.3 M488.5 456.8V534.5 M495.5 442.6V504.1 M501.5 464.4V489.0 M511.5 402.2V453.0 M514.5 433.1V469.5 M518.5 413.2V476.1 M521.5 464.0V493.8 M524.5 472.8V492.7 M527.5 478.3V511.4 M531.5 472.8V521.4 M537.5 494.9V546.7 M540.5 513.6V558.9 M544.5 544.5V600.8 M557.5 482.7V514.7 M563.5 490.5V507.0 M566.5 479.4V510.3 M573.5 496.0V512.5 M576.5 510.3V557.1 M586.5 497.1V534.6 M589.5 523.6V547.8 M593.5 539.0V547.8 M606.5 522.5V543.4 M609.5 537.9V556.7 M612.5 539.0V560.0 M619.5 544.5V563.3 M622.5 547.8V585.6 M628.5 556.3V593.1 M632.5 568.6V605.4 M641.5 565.7V579.9 M645.5 566.7V580.9 M648.5 577.1V589.4 M651.5 582.7V594.1 M654.5 580.9V597.9 M664.5 583.3V591.3 M667.5 574.2V594.1 M674.5 583.7V602.6 M693.5 442.8V499.6 M697.5 468.4V512.8 M700.5 502.4V535.5 M703.5 510.0V532.6 M706.5 521.3V531.7 M710.5 524.1V538.3 M713.5 525.1V544.0 M719.5 502.4V522.2 M723.5 514.7V538.3 M726.5 528.9V545.9 M729.5 529.8V538.3 M732.5 534.5V556.3 M736.5 544.7V592.0 M739.5 555.1V587.3 M745.5 561.7V578.8 M749.5 562.7V582.5 M752.5 572.1V576.9 M755.5 575.0V602.4 M765.5 567.4V580.7 M768.5 575.9V611.8 M771.5 601.4V628.9 M775.5 618.5V683.7 M778.5 637.4V670.5 M784.5 646.8V677.1 M788.5 653.4V685.6 M791.5 680.7V780.9 M797.5 687.3V714.7 M801.5 696.7V710.9 M807.5 696.7V714.7 M810.5 704.3V725.1 M814.5 709.0V724.1 M824.5 638.1V698.6 M830.5 685.4V692.9 M833.5 686.3V707.1 M837.5 700.5V715.6 M846.5 701.4V715.6 M850.5 704.5V729.5 M853.5 719.2V733.3 M859.5 692.4V714.8 M863.5 704.5V726.9 M869.5 702.0V727.5 M876.5 712.2V726.9 M882.5 696.9V711.6 M885.5 707.1V724.3 M889.5 717.3V725.0 M892.5 718.6V730.7 M902.5 707.7V718.0 M921.5 656.4V684.7 M924.5 673.9V701.3 M928.5 689.2V704.5 M931.5 693.0V703.3 M934.5 696.9V709.6 M937.5 704.5V718.0 M944.5 701.3V714.8 M947.5 701.1V709.6 M950.5 705.8V728.2 M954.5 718.6V732.0 M960.5 725.6V737.8 M963.5 719.9V732.7 M973.5 721.8V742.2 M976.5 728.2V735.8 M980.5 731.4V735.2 M986.5 721.8V733.3 M993.5 713.5V726.9 M996.5 719.2V731.4 M1002.5 721.8V725.0" stroke="#f23645" stroke-width="1" fill="none"/>
<path d="M9.0 464.8h3V470.5h-3Z M12.0 470.5h3V480.9h-3Z M16.0 480.9h3V502.6h-3Z M19.0 502.3h3V513.0h-3Z M22.0 505.5h3V514.0h-3Z M32.0 489.4h3V508.3h-3Z M38.0 507.4h3V509.3h-3Z M42.0 508.3h3V520.6h-3Z M45.0 520.6h3V534.8h-3Z M48.0 534.8h3V548.0h-3Z M58.0 502.1h3V503.6h-3Z M61.0 502.6h3V524.4h-3Z M78.0 490.4h3V507.4h-3Z M87.0 484.7h3V494.1h-3Z M91.0 490.4h3V494.1h-3Z M97.0 480.0h3V481.8h-3Z M123.0 299.3h3V309.7h-3Z M133.0 160.5h3V179.4h-3Z M149.0 141.5h3V239.9h-3Z M152.0 239.9h3V250.3h-3Z M156.0 249.3h3V251.2h-3Z M165.0 224.8h3V256.9h-3Z M172.0 254.0h3V263.5h-3Z M175.0 263.5h3V283.2h-3Z M178.0 282.3h3V299.3h-3Z M182.0 299.3h3V350.3h-3Z M191.0 269.2h3V298.4h-3Z M201.0 204.2h3V213.6h-3Z M204.0 213.6h3V228.8h-3Z M208.0 228.8h3V239.2h-3Z M211.0 239.2h3V254.3h-3Z M221.0 215.5h3V267.5h-3Z M224.0 266.6h3V267.9h-3Z M230.0 260.3h3V264.7h-3Z M234.0 264.7h3V271.3h-3Z M237.0 271.3h3V325.2h-3Z M243.0 301.6h3V328.0h-3Z M250.0 269.8h3V276.0h-3Z M253.0 276.0h3V281.7h-3Z M256.0 281.7h3V326.1h-3Z M263.0 286.0h3V296.8h-3Z M266.0 295.9h3V297.4h-3Z M269.0 296.8h3V336.5h-3Z M273.0 335.6h3V341.3h-3Z M276.0 336.5h3V346.9h-3Z M279.0 346.9h3V352.6h-3Z M286.0 324.6h3V329.9h-3Z M289.0 329.9h3V343.1h-3Z M295.0 338.4h3V339.4h-3Z M305.0 297.8h3V303.4h-3Z M321.0 256.9h3V281.4h-3Z M325.0 281.4h3V290.0h-3Z M335.0 266.3h3V269.2h-3Z M338.0 268.2h3V291.8h-3Z M341.0 290.9h3V294.7h-3Z M344.0 293.7h3V296.6h-3Z M348.0 295.6h3V327.8h-3Z M351.0 327.8h3V335.3h-3Z M357.0 307.9h3V356.1h-3Z M374.0 320.2h3V328.7h-3Z M387.0 276.7h3V296.6h-3Z M396.0 291.8h3V327.8h-3Z M403.0 320.2h3V341.0h-3Z M406.0 340.5h3V453.0h-3Z M419.0 392.5h3V419.0h-3Z M422.0 419.0h3V443.6h-3Z M426.0 443.6h3V466.3h-3Z M429.0 466.3h3V474.8h-3Z M442.0 421.8h3V440.8h-3Z M445.0 440.8h3V455.9h-3Z M461.0 382.1h3V385.9h-3Z M465.0 385.0h3V393.5h-3Z M468.0 393.5h3V406.7h-3Z M471.0 406.7h3V437.0h-3Z M478.0 416.2h3V419.0h-3Z M484.0 413.3h3V471.0h-3Z M487.0 471.0h3V498.4h-3Z M494.0 462.5h3V497.5h-3Z M500.0 470.1h3V476.7h-3Z M510.0 414.3h3V449.6h-3Z M513.0 449.6h3V451.9h-3Z M517.0 450.8h3V468.4h-3Z M520.0 468.4h3V489.4h-3Z M523.0 488.3h3V490.5h-3Z M526.0 489.4h3V497.1h-3Z M530.0 496.0h3V510.3h-3Z M536.0 495.3h3V524.7h-3Z M539.0 524.7h3V554.5h-3Z M543.0 545.6h3V565.5h-3Z M556.0 492.7h3V499.3h-3Z M562.0 493.8h3V501.5h-3Z M565.0 500.4h3V504.8h-3Z M572.0 499.7h3V511.4h-3Z M575.0 511.4h3V545.6h-3Z M585.0 500.4h3V528.0h-3Z M588.0 528.0h3V543.4h-3Z M592.0 541.2h3V544.5h-3Z M605.0 524.7h3V542.3h-3Z M608.0 541.2h3V545.6h-3Z M611.0 541.2h3V550.0h-3Z M618.0 545.6h3V557.8h-3Z M621.0 558.2h3V579.9h-3Z M627.0 570.5h3V589.4h-3Z M631.0 589.4h3V604.5h-3Z M640.0 570.5h3V574.2h-3Z M644.0 573.3h3V579.0h-3Z M647.0 578.0h3V586.5h-3Z M650.0 585.6h3V590.3h-3Z M653.0 590.3h3V596.9h-3Z M663.0 585.6h3V589.4h-3Z M666.0 588.4h3V593.1h-3Z M673.0 584.6h3V594.1h-3Z M692.0 460.8h3V472.1h-3Z M696.0 472.1h3V510.0h-3Z M699.0 510.0h3V520.4h-3Z M702.0 520.4h3V527.0h-3Z M705.0 525.1h3V528.9h-3Z M709.0 527.9h3V533.6h-3Z M712.0 532.6h3V539.3h-3Z M718.0 509.0h3V515.6h-3Z M722.0 515.6h3V531.7h-3Z M725.0 530.8h3V533.6h-3Z M728.0 531.7h3V536.4h-3Z M731.0 535.5h3V555.3h-3Z M735.0 555.1h3V557.0h-3Z M738.0 556.1h3V582.5h-3Z M744.0 566.5h3V574.0h-3Z M748.0 573.1h3V575.0h-3Z M751.0 574.0h3V575.9h-3Z M754.0 575.9h3V596.7h-3Z M764.0 575.0h3V576.9h-3Z M767.0 576.9h3V604.3h-3Z M770.0 604.3h3V622.2h-3Z M774.0 622.2h3V646.8h-3Z M777.0 646.8h3V661.0h-3Z M783.0 652.9h3V663.8h-3Z M787.0 663.8h3V681.8h-3Z M790.0 681.8h3V760.1h-3Z M796.0 692.9h3V705.2h-3Z M800.0 701.4h3V705.2h-3Z M806.0 700.5h3V711.8h-3Z M809.0 710.9h3V720.4h-3Z M813.0 719.4h3V721.3h-3Z M823.0 681.6h3V691.0h-3Z M829.0 687.3h3V691.0h-3Z M832.0 690.1h3V705.2h-3Z M836.0 705.2h3V709.0h-3Z M845.0 702.4h3V711.8h-3Z M849.0 712.8h3V724.3h-3Z M852.0 723.1h3V725.0h-3Z M858.0 702.2h3V709.6h-3Z M862.0 709.6h3V722.4h-3Z M868.0 717.3h3V724.3h-3Z M875.0 713.1h3V721.8h-3Z M881.0 702.2h3V709.6h-3Z M884.0 709.6h3V721.2h-3Z M888.0 720.5h3V721.8h-3Z M891.0 721.8h3V726.9h-3Z M901.0 713.5h3V714.8h-3Z M920.0 672.6h3V679.6h-3Z M923.0 679.6h3V693.7h-3Z M927.0 693.7h3V698.8h-3Z M930.0 697.5h3V699.4h-3Z M933.0 698.8h3V709.0h-3Z M936.0 709.0h3V715.4h-3Z M943.0 702.2h3V707.1h-3Z M946.0 705.8h3V707.1h-3Z M949.0 706.5h3V721.2h-3Z M953.0 721.2h3V731.4h-3Z M959.0 728.8h3V730.7h-3Z M962.0 729.5h3V731.0h-3Z M972.0 723.7h3V732.0h-3Z M975.0 731.4h3V732.7h-3Z M979.0 732.0h3V733.3h-3Z M985.0 730.1h3V732.0h-3Z M992.0 716.7h3V725.6h-3Z M995.0 725.0h3V726.3h-3Z M1001.0 722.4h3V724.3h-3Z" fill="#f23645"/>
<path d="M144.3 115.8L1123 707.8L795 785" fill="none" stroke="#db3550" stroke-width="2.7" stroke-linejoin="miter"/>
<path d="M11 724.5H1094" stroke="#f23645" stroke-width="1" stroke-dasharray="1.6 2.4" fill="none"/>
<text x="1170.4" y="82.9" font-size="14.2" fill="#131722" textLength="45.2" lengthAdjust="spacing">3.8000</text>
<text x="1170.4" y="135.6" font-size="14.2" fill="#131722" textLength="45.2" lengthAdjust="spacing">3.6000</text>
<text x="1170.4" y="188.3" font-size="14.2" fill="#131722" textLength="45.2" lengthAdjust="spacing">3.4000</text>
<text x="1170.4" y="241.0" font-size="14.2" fill="#131722" textLength="45.2" lengthAdjust="spacing">3.2000</text>
<text x="1170.4" y="293.8" font-size="14.2" fill="#131722" textLength="45.2" lengthAdjust="spacing">3.0000</text>
<text x="1170.4" y="346.5" font-size="14.2" fill="#131722" textLength="45.2" lengthAdjust="spacing">2.8000</text>
<text x="1170.4" y="399.2" font-size="14.2" fill="#131722" textLength="45.2" lengthAdjust="spacing">2.6000</text>
<text x="1170.4" y="451.9" font-size="14.2" fill="#131722" textLength="45.2" lengthAdjust="spacing">2.4000</text>
<text x="1170.4" y="504.6" font-size="14.2" fill="#131722" textLength="45.2" lengthAdjust="spacing">2.2000</text>
<text x="1170.4" y="557.3" font-size="14.2" fill="#131722" textLength="45.2" lengthAdjust="spacing">2.0000</text>
<text x="1170.4" y="610.0" font-size="14.2" fill="#131722" textLength="45.2" lengthAdjust="spacing">1.8000</text>
<text x="1170.4" y="662.8" font-size="14.2" fill="#131722" textLength="45.2" lengthAdjust="spacing">1.6000</text>
<text x="1170.4" y="768.2" font-size="14.2" fill="#131722" textLength="45.2" lengthAdjust="spacing">1.2000</text>
<text x="1170.4" y="820.9" font-size="14.2" fill="#131722" textLength="45.2" lengthAdjust="spacing">1.0000</text>
<text x="79.4" y="874.3" font-size="14.2" text-anchor="middle" fill="#131722">Jul</text>
<text x="180.4" y="874.3" font-size="14.2" text-anchor="middle" fill="#131722">Aug</text>
<text x="281.4" y="874.3" font-size="14.2" text-anchor="middle" fill="#131722">Sep</text>
<text x="378.4" y="874.3" font-size="14.2" text-anchor="middle" fill="#131722">Oct</text>
<text x="479.4" y="874.3" font-size="14.2" text-anchor="middle" fill="#131722">Nov</text>
<text x="576.4" y="874.3" font-size="14.2" text-anchor="middle" fill="#131722">Dec</text>
<text x="678.4" y="874.3" font-size="14.2" text-anchor="middle" fill="#131722" font-weight="bold">2026</text>
<text x="778.4" y="874.3" font-size="14.2" text-anchor="middle" fill="#131722">Feb</text>
<text x="869.4" y="874.3" font-size="14.2" text-anchor="middle" fill="#131722">Mar</text>
<text x="970.4" y="874.3" font-size="14.2" text-anchor="middle" fill="#131722">Apr</text>
<text x="1068.4" y="874.3" font-size="14.2" text-anchor="middle" fill="#131722">May</text>
<rect x="1163.5" y="36.5" width="72" height="27" rx="3" fill="#fff" stroke="#f0f1f4"/>
<text x="1173" y="55" font-size="14.2" fill="#131722">USD</text>
<rect x="1159.9" y="554.4" width="62.2" height="19.4" rx="2.5" fill="#4caf50"/>
<text x="1170.4" y="569.0" font-size="14.2" fill="#fff" textLength="45.2" lengthAdjust="spacing">1.9555</text>
<rect x="1159.9" y="676.1" width="62.2" height="19" rx="2.5" fill="#f23645"/>
<text x="1170.4" y="690.5" font-size="14.2" fill="#fff" textLength="45.2" lengthAdjust="spacing">1.4681</text>
<rect x="1159.9" y="695.1" width="62.2" height="19.4" rx="2.5" fill="#2962ff"/>
<text x="1170.4" y="709.7" font-size="14.2" fill="#fff" textLength="45.2" lengthAdjust="spacing">1.3789</text>
<rect x="1159.9" y="715" width="74.8" height="19" rx="2.5" fill="#f23645"/>
<text x="1170.4" y="729.4" font-size="14.2" fill="#fff" textLength="57.7" lengthAdjust="spacing">14:09:24</text>
<rect x="1093.9" y="715" width="64.8" height="19" rx="2.5" fill="#f23645"/>
<text x="1099.5" y="729.4" font-size="14.2" fill="#fff" textLength="54" lengthAdjust="spacing">XRPUSD</text>
</svg>
<div class="lg" style="top:40.3px"><span class="t" style="left:0;letter-spacing:-0.19px">XRP / U.S. Dollar · 1D · Coinbase</span><span class="t" style="left:213.6px">O</span><span class="t r" style="left:224px">1.3565</span><span class="t" style="left:275.6px">H</span><span class="t r" style="left:285.4px">1.3578</span><span class="t" style="left:336.5px">L</span><span class="t r" style="left:344.9px">1.3429</span><span class="t" style="left:396px">C</span><span class="t r" style="left:406.8px">1.3471</span><span class="t r" style="left:454.8px;letter-spacing:0.28px">−0.0093 (−0.69%)</span></div>
<div class="lg" style="top:59.2px">Supertrend (10, 3)&nbsp; <span style="font-size:11.5px;font-weight:bold">∅</span>&nbsp; <span class="r">1.4681</span></div>
<div class="lg" style="top:77.9px">SAR (0.02, 0.02, 0.2)&nbsp; <span class="b">1.3789</span></div>
<svg id="logo" width="220" height="50" viewBox="0 895 220 50" style="left:0;top:895px">
<path d="M14.1 909H28.1V925.1H20.2V915.5H14.1Z M37.8 909H47.1L41.8 925.1H32.5Z" fill="#131722"/><circle cx="32.8" cy="912.1" r="2.9" fill="#131722"/>
<text x="56" y="925.7" font-size="22.4" font-weight="bold" fill="#131722" textLength="137" lengthAdjust="spacingAndGlyphs">TradingView</text>
</svg>
</body></html>
